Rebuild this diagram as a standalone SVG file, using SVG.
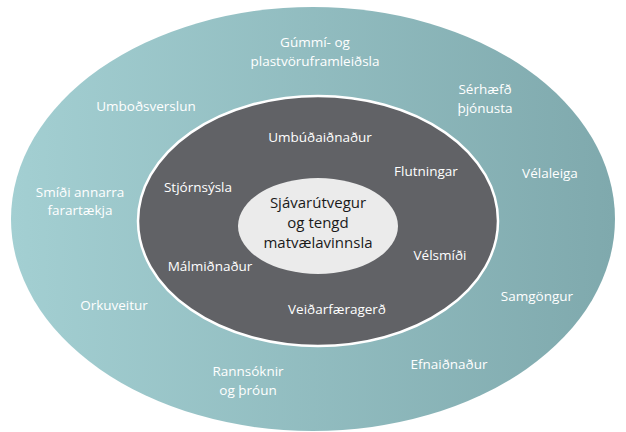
<svg xmlns="http://www.w3.org/2000/svg" width="626" height="432" viewBox="0 0 626 432">
<defs>
<linearGradient id="outerGrad" x1="0" y1="0" x2="1" y2="0">
<stop offset="0" stop-color="#a3cfd2"/>
<stop offset="1" stop-color="#7fa9ad"/>
</linearGradient>
</defs>
<style>
.lbl{font-family:"Open Sans","Liberation Sans",sans-serif;font-size:13.5px;fill:#ffffff;text-anchor:middle}
.core{font-family:"Open Sans","Liberation Sans",sans-serif;font-size:15px;fill:#1a1a1a;text-anchor:middle}
</style>
<rect width="626" height="432" fill="#ffffff"/>
<g id="outer-ring">
<ellipse cx="313" cy="219" rx="302" ry="212" fill="url(#outerGrad)"/>
</g>
<g id="inner-ring">
<ellipse cx="318" cy="221" rx="180" ry="125" fill="#616266" stroke="#ffffff" stroke-width="2.5"/>
</g>
<g id="core">
<ellipse cx="318" cy="226" rx="80" ry="48" fill="#ebebeb"/>
<text class="core" x="318" y="208">Sjávarútvegur</text>
<text class="core" x="318" y="228">og tengd</text>
<text class="core" x="318" y="248">matvælavinnsla</text>
</g>
<g id="outer-labels">
<g id="gummi"><text class="lbl" x="315" y="47">Gúmmí- og</text><text class="lbl" x="315" y="66">plastvöruframleiðsla</text></g>
<g id="umbodsverslun"><text class="lbl" x="146" y="111">Umboðsverslun</text></g>
<g id="serhaefd"><text class="lbl" x="485" y="94">Sérhæfð</text><text class="lbl" x="485" y="113">þjónusta</text></g>
<g id="velaleiga"><text class="lbl" x="550" y="178">Vélaleiga</text></g>
<g id="smidi"><text class="lbl" x="80" y="197">Smíði annarra</text><text class="lbl" x="80" y="215">farartækja</text></g>
<g id="orkuveitur"><text class="lbl" x="114" y="310">Orkuveitur</text></g>
<g id="rannsoknir"><text class="lbl" x="248" y="376">Rannsóknir</text><text class="lbl" x="248" y="395">og þróun</text></g>
<g id="efnaidnadur"><text class="lbl" x="449" y="369">Efnaiðnaður</text></g>
<g id="samgongur"><text class="lbl" x="537" y="301">Samgöngur</text></g>
</g>
<g id="inner-labels">
<g id="umbudaidnadur"><text class="lbl" x="320" y="142">Umbúðaiðnaður</text></g>
<g id="flutningar"><text class="lbl" x="426" y="176">Flutningar</text></g>
<g id="stjornsysla"><text class="lbl" x="198" y="192">Stjórnsýsla</text></g>
<g id="malmidnadur"><text class="lbl" x="210" y="271">Málmiðnaður</text></g>
<g id="velsmidi"><text class="lbl" x="440" y="260">Vélsmíði</text></g>
<g id="veidarfaeragerd"><text class="lbl" x="337" y="314">Veiðarfæragerð</text></g>
</g>
</svg>
